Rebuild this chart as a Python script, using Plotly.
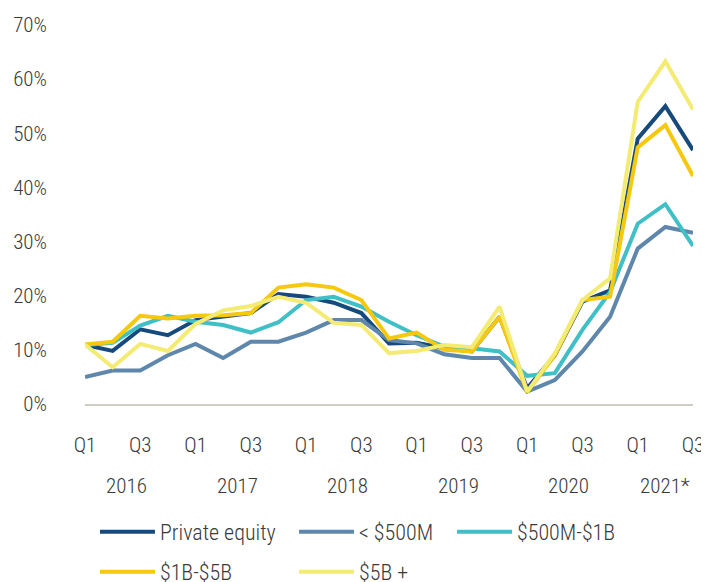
import plotly.graph_objects as go

quarters = ["Q1", "Q2", "Q3", "Q4"] * 5 + ["Q1", "Q2", "Q3"]
years = ["2016", "2017", "2018", "2019", "2020", "2021*"]
year_quarters = [4, 4, 4, 4, 4, 3]
y_ticks = [0, 10, 20, 30, 40, 50, 60, 70]

private_equity = [10.9, 9.8, 13.8, 12.7, 15.5, 16.1, 16.8, 20.3, 19.8, 18.7, 16.8, 11.2,
                  11.3, 10.3, 9.7, 16.1, 2.9, 9.0, 18.9, 21.0, 49.0, 55.0, 46.9]
under_500m = [5.0, 6.2, 6.2, 9.0, 11.1, 8.5, 11.5, 11.5, 13.2, 15.5, 15.5, 11.8,
              11.2, 9.2, 8.5, 8.5, 2.3, 4.4, 9.7, 16.1, 28.7, 32.7, 31.6]
m500_1b = [10.9, 11.3, 14.5, 16.3, 15.2, 14.6, 13.2, 15.1, 19.2, 19.8, 18.0, 15.2,
           12.7, 10.6, 10.3, 9.7, 5.2, 5.7, 13.7, 20.7, 33.3, 36.9, 29.2]
b1_5b = [11.0, 11.5, 16.3, 15.8, 16.3, 16.4, 16.8, 21.5, 22.1, 21.5, 19.2, 12.1,
         13.2, 10.0, 9.7, 16.1, 2.2, 9.0, 19.2, 19.8, 47.4, 51.5, 42.1]
b5_plus = [11.0, 6.8, 11.1, 9.8, 14.8, 17.3, 18.1, 19.8, 18.7, 15.0, 14.6, 9.4,
           9.8, 10.9, 10.5, 18.0, 2.3, 9.4, 19.2, 23.2, 55.8, 63.3, 54.4]

series_names = ["Private equity", "< $500M", "$500M-$1B", "$1B-$5B", "$5B +"]
series_values = [private_equity, under_500m, m500_1b, b1_5b, b5_plus]
series_colors = ["#174A7C", "#5E87AB", "#40BFC6", "#F6C80F", "#F3EB72"]

# legend slots: (x paper, y paper) for each entry, 3 on first row, 2 on second
legend_pos = [(0.0164, -0.3377), (0.3438, -0.3377), (0.6036, -0.3377),
              (0.0164, -0.4433), (0.3438, -0.4433)]

FONT = "Roboto Condensed, DejaVu Sans Condensed, sans-serif"
TXT = "#3a3a3a"
FS = 21
LFS = 22
WEIGHT = 300

x = list(range(len(quarters)))
fig = go.Figure()
layout_legends = {}
for i, (name, vals, col) in enumerate(zip(series_names, series_values, series_colors)):
    lg = "legend" if i == 0 else f"legend{i + 1}"
    fig.add_trace(go.Scatter(x=x, y=vals, name=name, mode="lines", showlegend=True,
                             line=dict(color=col, width=4), legend=lg))
    lx, ly = legend_pos[i]
    layout_legends[lg] = dict(orientation="h", x=lx, y=ly, xanchor="left", yanchor="middle",
                              font=dict(family=FONT, size=LFS, color=TXT, weight=WEIGHT),
                              itemwidth=55, bgcolor="rgba(0,0,0,0)")

tickvals = [i for i, q in enumerate(quarters) if q in ("Q1", "Q3")]
ticktext = [quarters[i] for i in tickvals]

# year labels centered under their quarters
start = 0
for yr, n in zip(years, year_quarters):
    center = start + (n - 1) / 2
    fig.add_annotation(x=center, y=0, xref="x", yref="paper", yshift=-82, yanchor="middle",
                       text=yr, showarrow=False,
                       font=dict(family=FONT, size=FS, color=TXT, weight=WEIGHT))
    start += n

fig.update_layout(
    width=701, height=574,
    margin=dict(l=77, r=16, t=17, b=178, autoexpand=False),
    showlegend=True,
    plot_bgcolor="white", paper_bgcolor="white",
    font=dict(family=FONT, size=FS, color=TXT, weight=WEIGHT),
    xaxis=dict(range=[0, 22], tickvals=tickvals, ticktext=ticktext,
               showgrid=False, zeroline=False, showline=True,
               linecolor="#cfcdc4", linewidth=2, ticks="",
               ticklabelstandoff=21,
               tickfont=dict(family=FONT, size=FS, color=TXT, weight=WEIGHT)),
    yaxis=dict(range=[0, 70], tickvals=y_ticks,
               ticktext=[f"{v}%" for v in y_ticks],
               showgrid=False, zeroline=False, showline=False, ticks="",
               ticklabelstandoff=37,
               tickfont=dict(family=FONT, size=FS, color=TXT, weight=WEIGHT)),
    **layout_legends,
)

fig.write_html("out.html")
